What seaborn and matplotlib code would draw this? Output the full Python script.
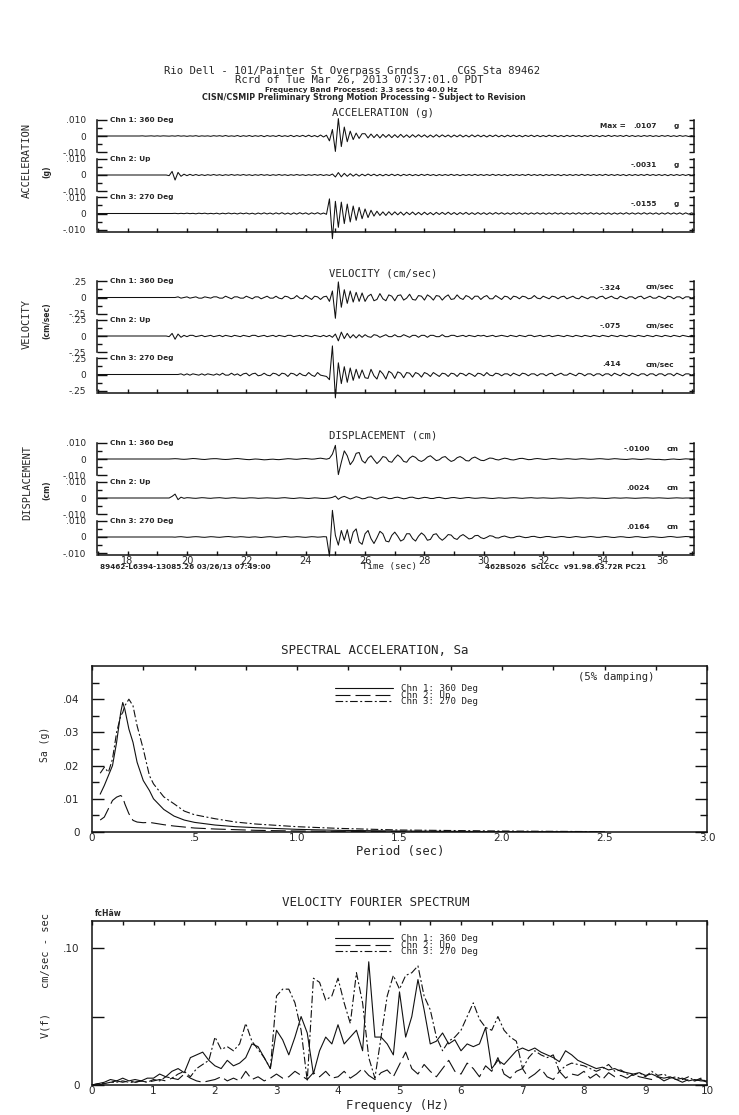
import numpy as np
import pandas as pd
import matplotlib
matplotlib.use("Agg")
import matplotlib.pyplot as plt
from matplotlib.lines import Line2D
import seaborn as sns

# ---------------------------------------------------------------
# Data
# ---------------------------------------------------------------
# time histories: first sample (sec) and sample step (sec)
T_START = 17.0
T_STEP = 0.1

CHANNELS = ['Chn 1: 360 Deg', 'Chn 2: Up', 'Chn 3: 270 Deg']

# acceleration, units of 0.0001 g
ACC_CH1 = [
    0, 0, 0, 0, 0, 0, 0, 0, 0, 0,
    0, 0, 0, 0, 0, 1, -1, 0, 1, -1,
    1, -1, 1, 0, -1, 1, -1, 2, -1, 1,
    -2, 1, -1, 2, -2, 1, -1, 1, -2, 2,
    -1, 2, -2, 3, -2, 1, -2, 3, -3, 2,
    -2, 3, -3, 2, -2, 3, -4, 3, -2, 2,
    -3, 4, -3, 2, -3, 4, -4, 3, -3, 4,
    -4, 5, -4, 3, -5, 6, -6, 5, -30, 40,
    -95, 107, -65, 55, -35, 30, -22, 18, -15, 14,
    14, -12, 12, -10, 10, -12, 10, -8, 9, -10,
    8, -9, 10, -8, 7, -9, 8, -7, 8, -6,
    7, -8, 6, -7, 8, -6, 7, -5, 6, -7,
    6, -5, 7, -6, 5, -6, 7, -5, 6, -5,
    5, -6, 5, -4, 6, -5, 4, -5, 5, -4,
    5, -4, 4, -5, 4, -3, 5, -4, 4, -4,
    3, -4, 5, -3, 4, -4, 3, -4, 4, -3,
    4, -3, 3, -4, 3, -3, 4, -3, 3, -4,
    3, -3, 4, -3, 3, -2, 3, -3, 4, -3,
    3, -3, 2, -3, 3, -2, 3, -3, 2, -3,
    3, -2, 3, -3, 2, -3, 3, -2, 2, -3,
    2, -2]
ACC_CH2 = [
    0, 0, 0, 0, 0, 0, 0, 0, 0, 0,
    0, 0, 0, 0, 0, 0, 0, 0, 0, 0,
    0, 0, 0, 0, -4, 22, -31, 16, -8, 5,
    -4, 4, -3, 3, -3, 2, -3, 2, -2, 3,
    -2, 2, -3, 2, -2, 3, -2, 2, -2, 3,
    -2, 2, -3, 2, -2, 3, -2, 2, -3, 2,
    -2, 3, -2, 2, -3, 2, -2, 3, -2, 2,
    -3, 2, -2, 3, -2, 3, -3, 2, -3, 6,
    -12, 15, -11, 10, -8, 8, -7, 6, -7, 5,
    -5, 6, -4, 5, -5, 4, -5, 4, -4, 5,
    -4, 4, -5, 4, -3, 4, -4, 3, -4, 4,
    -3, 4, -3, 3, -4, 3, -3, 3, -3, 4,
    -3, 3, -4, 3, -3, 3, -3, 4, -3, 3,
    -3, 3, -3, 4, -3, 3, -3, 3, -4, 3,
    -3, 3, -3, 3, -3, 4, -3, 3, -3, 3,
    -4, 3, -3, 3, -3, 3, -4, 3, -3, 3,
    -3, 3, -3, 4, -3, 3, -3, 3, -3, 3,
    -3, 4, -3, 3, -3, 3, -3, 3, -4, 3,
    -3, 3, -3, 3, -3, 4, -3, 3, -3, 3,
    -3, 3, -4, 3, -3, 3, -3, 3, -3, 3,
    -3, 3]
ACC_CH3 = [
    0, 0, 0, 0, 0, 0, 0, 0, 0, 0,
    0, 0, 0, 0, 0, 0, 0, 0, 0, 0,
    0, 0, 0, 0, 0, 0, 1, -1, 1, -1,
    2, -1, 1, -2, 2, -1, 2, -2, 1, -2,
    2, -3, 2, -2, 3, -2, 2, -3, 3, -2,
    3, -3, 2, -4, 3, -3, 4, -3, 3, -4,
    4, -3, 5, -4, 3, -5, 4, -4, 5, -3,
    4, -5, 4, -3, 5, -4, 3, -5, 90, -155,
    75, -85, 70, -62, 58, -52, 46, -42, 38, -32,
    28, -25, 20, -16, 14, -12, 10, -12, 11, -9,
    10, -8, 9, -10, 8, -7, 9, -8, 7, -8,
    8, -7, 6, -8, 7, -6, 7, -6, 8, -6,
    6, -7, 6, -5, 7, -6, 5, -6, 6, -5,
    5, -6, 5, -5, 6, -4, 5, -5, 4, -5,
    5, -4, 5, -5, 4, -5, 4, -4, 5, -4,
    4, -5, 4, -4, 5, -4, 4, -5, 4, -4,
    4, -4, 5, -4, 4, -4, 5, -4, 4, -5,
    4, -4, 4, -5, 4, -4, 4, -4, 5, -4,
    4, -4, 4, -4, 5, -4, 4, -4, 4, -5,
    4, -4, 5, -4, 4, -4, 4, -5, 4, -4,
    4, -4]

# velocity, units of 0.01 cm/sec
VEL_CH1 = [
    0, 0, 0, 0, 0, 0, 0, 0, 0, 0,
    0, 0, 0, 0, 0, 0, 0, 0, 0, 0,
    0, 0, 0, 0, 0, 0, 0, 1, -1, 0,
    1, -1, 0, 1, -1, -1, 1, 0, -1, 1,
    1, -1, -1, 2, 0, -2, 1, 1, -1, -1,
    2, 0, -2, 1, 1, -2, 0, 2, -1, -1,
    2, -1, -2, 2, 1, -2, -1, 3, -1, -2,
    3, 0, -3, 2, 1, -3, 1, 2, -6, 10,
    -32, 24, -15, 12, -9, 10, -7, 8, -6, 7,
    -6, 2, 5, -5, -3, 6, -2, -5, 4, 2,
    -5, 3, 4, -4, -1, 5, -3, -4, 3, 2,
    -4, 4, 1, -4, 3, 2, -4, 1, 4, -3,
    -2, 4, -1, -3, 3, 1, -3, 2, 2, -3,
    1, 3, -2, -2, 3, 0, -3, 2, 1, -3,
    2, 1, -2, 2, 1, -2, -1, 3, -1, -2,
    2, 0, -2, 2, 1, -2, 1, 2, -2, 0,
    2, -1, -2, 2, 0, -2, 1, 1, -2, 1,
    2, -2, 0, 2, -1, -2, 2, 0, -2, 1,
    1, -2, 1, 2, -2, 0, 2, -1, -1, 2,
    0, -2, 2, 1, -2, 1, 1, -2, 1, 1,
    -1, 1]
VEL_CH2 = [
    0, 0, 0, 0, 0, 0, 0, 0, 0, 0,
    0, 0, 0, 0, 0, 0, 0, 0, 0, 0,
    0, 0, 0, 0, -1, 4, -5, 3, -2, 1,
    -1, 1, 1, -1, 0, 1, -1, 0, 1, -1,
    0, 1, -1, 1, 0, -1, 1, 0, -1, 1,
    0, -1, 1, 1, -1, 0, 1, -1, 0, 1,
    -1, 1, 0, -1, 1, 1, -1, 0, 1, -1,
    1, 0, -1, 1, 0, -1, 1, -1, 1, -2,
    3, -7.5, 6, -4, 4, -3, 2, -3, 2, -2,
    2, -1, -2, 2, 1, -2, 0, 2, -1, -1,
    2, -1, -1, 2, 0, -2, 1, 1, -2, 1,
    1, -2, 1, 1, -1, -1, 2, -1, -1, 1,
    1, -1, 0, 1, -1, 1, 0, -1, 1, 0,
    1, -1, 0, 1, -1, 0, 1, 0, -1, 1,
    0, -1, 1, 0, -1, 1, 1, -1, 0, 1,
    -1, 0, 1, -1, 0, 1, 0, -1, 1, 0,
    -1, 1, 0, -1, 1, 0, -1, 1, 0, -1,
    1, 0, -1, 1, 0, -1, 1, 0, -1, 1,
    0, -1, 1, 0, -1, 1, 0, -1, 1, 0,
    -1, 1, 0, -1, 1, 0, -1, 1, 0, -1,
    1, 0]
VEL_CH3 = [
    0, 0, 0, 0, 0, 0, 0, 0, 0, 0,
    0, 0, 0, 0, 0, 0, 0, 0, 0, 0,
    0, 0, 0, 0, 0, 0, 0, 0, 1, -1,
    1, -1, 1, 0, -1, 1, -1, 1, 0, -1,
    1, -1, 2, -1, -1, 2, -1, 1, -2, 1,
    2, -2, 1, 2, -2, -1, 2, -1, -2, 2,
    1, -2, 2, 1, -3, 2, 1, -2, 2, -1,
    -2, 3, -1, -3, 3, -1, -2, -3, -8, 44,
    -36, 18, -14, 12, -12, 10, -9, 8, -6, 7,
    -5, -6, 8, -2, -7, 6, 1, -7, 5, 2,
    -6, 4, 2, -5, 3, 2, -4, 3, 1, -4,
    3, 1, -3, 3, 0, -3, 2, 1, -3, 2,
    1, -3, 2, 1, -2, 2, 0, -3, 2, 1,
    -2, 3, -1, -2, 2, 1, -2, 1, 1, -2,
    2, 0, -2, 2, 1, -2, 1, 1, -2, 1,
    1, -2, 1, 2, -2, 0, 2, -1, -1, 2,
    0, -2, 2, 1, -2, 1, 1, -2, 1, 1,
    -2, 1, 1, -2, 2, 0, -2, 2, 0, -2,
    2, 0, -2, 1, 1, -2, 1, 1, -2, 1,
    1, -2, 1, 1, -2, 2, 0, -2, 1, 1,
    -1, 1]

# displacement, units of 0.0001 cm
DISP_CH1 = [
    0, 0, 0, 0, 0, 0, 0, 0, 0, 0,
    0, 0, 0, 0, 0, 0, 0, 0, 0, 0,
    0, 0, 0, 0, 0, 1, 2, 1, -1, -2,
    -1, 1, 3, 2, 0, -2, -3, -1, 1, 2,
    2, 0, -2, -3, -2, 0, 2, 3, 1, -1,
    -3, -4, -2, 0, -1, -3, -5, -4, -2, -1,
    -3, -4, -2, 0, 2, 1, -1, -2, 0, 2,
    3, 1, -1, 0, 3, 5, 2, -1, 4, 30,
    84, -96, -20, 50, 20, -35, -10, 35, 40, -10,
    -25, 5, 20, -5, -28, -10, 15, 10, -15, -20,
    5, 25, 10, -15, -20, 5, 18, 10, -8, -15,
    -5, 12, 20, 5, -10, -5, 10, 15, -2, -15,
    -8, 8, 15, 5, -10, -12, 5, 12, 2, -8,
    -10, -2, 6, 4, -3, -6, 0, 5, 2, -4,
    -6, -2, 3, 4, 0, -4, -3, 1, 3, 1,
    -2, -3, 0, 3, 2, -1, -2, 0, 2, 1,
    -1, -2, 0, 2, 1, -1, -2, -1, 1, 2,
    1, -1, -2, 0, 2, 1, -1, -2, -3, -1,
    1, 0, -2, -3, -1, 1, 0, -2, -3, -2,
    -4, -5, -3, -1, 0, -2, -3, -1, 1, 0,
    -1, 0]
DISP_CH2 = [
    0, 0, 0, 0, 0, 0, 0, 0, 0, 0,
    0, 0, 0, 0, 0, 0, 0, 0, 0, 0,
    0, 0, 0, 0, 0, 10, 24, -10, 5, -2,
    2, 1, -1, -2, 0, 2, 1, -1, -2, 0,
    1, 2, 0, -2, -1, 1, 2, 0, -1, -2,
    -1, 1, 1, 0, -2, -1, 0, 1, 0, -1,
    -2, -1, 1, 2, 0, -2, -3, -1, 1, 0,
    -2, -3, -1, 1, 0, -2, -3, -2, 0, 4,
    12, -8, 4, 10, 2, -6, 0, 8, 3, -5,
    -3, 5, 6, -2, -6, 1, 6, 3, -4, -3,
    3, 5, 0, -5, -2, 4, 5, -1, -4, 0,
    4, 2, -3, -3, 2, 4, 0, -4, -2, 2,
    3, 0, -3, -1, 2, 3, 0, -2, -1, 1,
    2, 0, -2, -3, -1, 1, 0, -2, -1, 1,
    2, 1, -1, -2, 0, 1, 2, 0, -1, 0,
    1, 0, -1, -2, -1, 0, 1, 0, -1, -2,
    -1, 0, 1, 1, 0, -1, 0, 1, 0, -1,
    -2, -3, -2, 0, 1, 0, -1, 0, 1, 0,
    -1, -2, -1, 0, 1, 1, 0, -1, 0, 1,
    0, -1, -2, -1, 0, 1, 0, -1, 0, 0,
    0, 0]
DISP_CH3 = [
    0, 0, 0, 0, 0, 0, 0, 0, 0, 0,
    0, 0, 0, 0, 0, 0, 0, 0, 0, 0,
    0, 0, 0, 0, 0, 0, -1, 1, 2, 0,
    -2, -1, 1, 2, 1, -1, -2, 0, 2, 1,
    -1, -2, 0, 2, 3, 1, -1, 0, 2, 1,
    -1, -2, 0, 1, -1, -3, -1, 1, 2, 0,
    -2, -1, 1, 3, 1, -1, 0, 2, 1, -1,
    -2, 0, 2, 1, -1, 0, 2, 1, -118, 164,
    10, -50, 40, -20, 45, -40, 30, 50, -30, -45,
    20, 40, -10, -40, -5, 35, 20, -25, -30, 10,
    30, 5, -25, -15, 20, 20, -10, -25, 5, 25,
    10, -20, -15, 15, 20, -5, -20, -5, 15, 12,
    -8, -15, 5, 15, 2, -12, -8, 8, 10, -4,
    -10, -2, 8, 5, -5, -6, 2, 6, 0, -5,
    -4, 3, 5, 0, -4, -2, 3, 4, -1, -4,
    -1, 3, 3, -1, -3, 0, 3, 2, -2, -3,
    0, 3, 1, -2, -2, 1, 3, 1, -2, -2,
    1, 3, 1, -2, -3, 0, 2, 1, -2, -3,
    -1, 2, 2, -1, -3, -2, 1, 2, 0, -2,
    -3, -1, 2, 3, 1, -2, -1, 1, 3, 2,
    0, 1]

ACC_PEAK = ['.0107', '-.0031', '-.0155']
VEL_PEAK = ['-.324', '-.075', '.414']
DISP_PEAK = ['-.0100', '.0024', '.0164']

# response spectrum, 5% damping
PERIOD = [0.04, 0.06, 0.08, 0.10, 0.12, 0.14, 0.15, 0.16, 0.18, 0.20, 0.22, 0.25, 0.28,
          0.30, 0.35, 0.40, 0.45, 0.50, 0.60, 0.70, 0.80, 1.0, 1.2, 1.5, 2.0, 2.5]
SA_CH1 = [.0114, .014, .017, .020, .027, .036, .039, .037, .031, .027, .021, .0155, .0125,
          .010, .0068, .0048, .0036, .0029, .0021, .0016, .0013, .0008, .0005, .0003, .0001, 0]
SA_CH2 = [.0036, .0045, .007, .0095, .0105, .011, .0105, .0085, .0055, .0035, .003, .0028, .0029,
          .0027, .0022, .0018, .0015, .0012, .0009, .0007, .0005, .0003, .0002, .0001, 0, 0]
SA_CH3 = [.0177, .0195, .018, .022, .030, .035, .036, .038, .040, .038, .032, .025, .017,
          .0145, .0106, .0085, .0063, .0052, .0040, .0030, .0024, .0016, .0011, .0006, .0003, .0001]

# velocity Fourier spectrum, 0 - 10 Hz, units of 0.001 cm/sec-sec
F_STEP = 0.1
FOURIER_CH1 = [
    0, 1, 2, 4, 3, 5, 3, 4, 3, 5,
    5, 8, 6, 10, 12, 9, 20, 22, 24, 18,
    14, 12, 18, 14, 16, 20, 30, 28, 20, 12,
    40, 33, 22, 35, 50, 38, 8, 25, 35, 30,
    44, 30, 35, 40, 25, 90, 35, 35, 30, 22,
    68, 35, 50, 77, 55, 30, 32, 38, 30, 33,
    25, 30, 28, 30, 42, 12, 18, 15, 20, 25,
    27, 25, 27, 24, 22, 20, 17, 25, 22, 18,
    16, 14, 12, 13, 11, 12, 10, 9, 8, 9,
    7, 8, 6, 5, 6, 4, 5, 3, 4, 3, 3]
FOURIER_CH2 = [
    0, 0, 1, 2, 3, 2, 3, 2, 3, 2,
    3, 4, 3, 5, 4, 8, 5, 3, 2, 3,
    4, 6, 3, 5, 3, 10, 4, 6, 3, 5,
    8, 5, 6, 10, 7, 4, 9, 6, 10, 5,
    6, 10, 5, 8, 12, 7, 4, 9, 11, 6,
    15, 24, 12, 8, 15, 10, 6, 12, 18, 10,
    8, 16, 12, 6, 14, 10, 20, 8, 5, 10,
    12, 5, 8, 12, 6, 4, 10, 5, 8, 7,
    10, 5, 8, 4, 9, 6, 7, 5, 8, 6,
    5, 4, 6, 3, 5, 4, 2, 4, 3, 4, 2]
FOURIER_CH3 = [
    0, 1, 1, 2, 2, 3, 2, 2, 3, 2,
    4, 3, 6, 5, 8, 10, 6, 12, 15, 18,
    35, 26, 28, 25, 30, 45, 32, 26, 20, 12,
    65, 70, 70, 60, 40, 3, 78, 75, 62, 65,
    78, 60, 45, 82, 60, 20, 5, 35, 65, 80,
    70, 80, 82, 87, 65, 55, 35, 25, 32, 35,
    40, 50, 60, 48, 42, 40, 50, 40, 35, 32,
    12, 20, 25, 22, 20, 22, 10, 14, 16, 15,
    14, 12, 10, 12, 15, 10, 11, 8, 7, 9,
    6, 10, 7, 8, 5, 6, 4, 6, 3, 5, 2]

# ---------------------------------------------------------------
# Figure
# ---------------------------------------------------------------
sns.set_style("ticks")
plt.rcParams['font.family'] = ['DejaVu Sans']
plt.rcParams['lines.scale_dashes'] = False
MONO = 'DejaVu Sans Mono'
INK = '#111111'

W, H = 739, 1115
fig = plt.figure(figsize=(W / 100, H / 100), dpi=100)


def add_px(left, top, right, bottom):
    return fig.add_axes([left / W, 1 - bottom / H, (right - left) / W, (bottom - top) / H])


def ftext(px, py, s, **kw):
    fig.text(px / W, 1 - py / H, s, **kw)


def trace(values, scale):
    t = T_START + T_STEP * np.arange(len(values))
    return pd.DataFrame({'t': t, 'v': np.asarray(values, dtype=float) * scale})


# header
ftext(352, 71, 'Rio Dell - 101/Painter St Overpass Grnds      CGS Sta 89462',
      family=MONO, size=7.6, ha='center', va='center')
ftext(359, 80, 'Rcrd of Tue Mar 26, 2013 07:37:01.0 PDT',
      family=MONO, size=7.6, ha='center', va='center')
ftext(361, 90, 'Frequency Band Processed: 3.3 secs to 40.0 Hz',
      size=5.2, weight='bold', ha='center', va='center')
ftext(364, 98, 'CISN/CSMIP Preliminary Strong Motion Processing - Subject to Revision',
      size=5.8, weight='bold', ha='center', va='center')

GROUPS = [
    dict(title='ACCELERATION (g)', ty=113, name='ACCELERATION', ny=160, unit_lab='(g)', uy=172,
         data=[ACC_CH1, ACC_CH2, ACC_CH3], scale=1e-4, m=0.01, lab=['-.010', '0', '.010'],
         peaks=ACC_PEAK, unit='g', vx=657, ux=676, centers=[136, 175, 213.5]),
    dict(title='VELOCITY (cm/sec)', ty=273, name='VELOCITY', ny=324, unit_lab='(cm/sec)', uy=321,
         data=[VEL_CH1, VEL_CH2, VEL_CH3], scale=1e-2, m=0.25, lab=['-.25', '0', '.25'],
         peaks=VEL_PEAK, unit='cm/sec', vx=621, ux=660, centers=[297.5, 336, 374.5]),
    dict(title='DISPLACEMENT (cm)', ty=435, name='DISPLACEMENT', ny=482, unit_lab='(cm)', uy=490,
         data=[DISP_CH1, DISP_CH2, DISP_CH3], scale=1e-4, m=0.01, lab=['-.010', '0', '.010'],
         peaks=DISP_PEAK, unit='cm', vx=650, ux=673, centers=[459, 498, 537]),
]

for gi, g in enumerate(GROUPS):
    ftext(383, g['ty'], g['title'], family=MONO, size=7.6, ha='center', va='center')
    ftext(27, g['ny'], g['name'], family=MONO, size=7.5, rotation=90, ha='center', va='center')
    ftext(47, g['uy'], g['unit_lab'], size=5.5, weight='bold', rotation=90, ha='center', va='center')
    m = g['m']
    for k in range(3):
        c = g['centers'][k]
        ax = add_px(97, c - 18, 694, c + 18)
        sns.lineplot(data=trace(g['data'][k], g['scale']), x='t', y='v', ax=ax, color=INK,
                     lw=0.75, estimator=None, sort=False, clip_on=False)
        ax.set_xlim(16.97, 37.08)
        ax.set_ylim(-1.108 * m, 1.108 * m)
        ax.set(xlabel='', ylabel='')
        ax.spines['top'].set_visible(False)
        for s in ['left', 'right', 'bottom']:
            ax.spines[s].set_linewidth(1.1)
            ax.spines[s].set_color(INK)
        ax.spines['right'].set_visible(True)
        ax.spines['left'].set_bounds(-m, m)
        ax.spines['right'].set_bounds(-m, m)
        ax.set_yticks([-m, 0, m], g['lab'])
        ax.set_yticks([-m / 2, m / 2], minor=True)
        ax.tick_params(axis='y', which='both', direction='in', left=True, right=True,
                       labelsize=6.5, pad=8, width=1.0, color=INK)
        ax.tick_params(axis='y', which='major', length=7)
        ax.tick_params(axis='y', which='minor', length=3.6)
        for tk in ax.yaxis.get_major_ticks():
            tk.tick2line.set_markersize(3.6)
        if k < 2:
            ax.spines['bottom'].set_visible(False)
            ax.set_xticks([])
        else:
            ax.set_xticks(range(17, 38), minor=True)
            if gi == 2:
                ax.set_xticks(range(18, 37, 2))
                ax.tick_params(axis='x', which='both', direction='in', length=3, width=1.0,
                               labelsize=7, pad=0.5, color=INK)
            else:
                ax.set_xticks([])
                ax.tick_params(axis='x', which='minor', direction='in', length=3, width=1.0,
                               color=INK)
        ax.patch.set_alpha(0)
        ftext(110, c - 16.25, CHANNELS[k], size=5.3, weight='bold', va='center')
        ftext(g['vx'], c - 10, g['peaks'][k], size=5.3, weight='bold', ha='right', va='center')
        ftext(g['ux'], c - 10, g['unit'], size=5.3, weight='bold', ha='center', va='center')
        if gi == 0 and k == 0:
            ftext(600, c - 10, 'Max =', size=5.3, weight='bold', va='center')

ftext(100, 567, '89462-L6394-13085.26 03/26/13 07:49:00', size=5.2, weight='bold', va='center')
ftext(390, 567, 'Time (sec)', family=MONO, size=6.6, ha='center', va='center')
ftext(485, 567, '462BS026  ScLcCc  v91.98.63.72R PC21', size=5.2, weight='bold', va='center')

STYLES = [None, (10.8, 3.6), (5.5, 1.8, 1.4, 1.8)]


def style_frame(ax):
    for s in ax.spines.values():
        s.set_linewidth(1.1)
        s.set_color(INK)
        s.set_visible(True)


def add_legend(ax, y_anchor):
    handles = []
    for st in STYLES:
        h = Line2D([], [], color=INK, lw=0.8)
        if st is not None:
            h.set_dashes(st)
        handles.append(h)
    ax.legend(handles, CHANNELS, loc='upper left', bbox_to_anchor=((335 - 92) / 615, y_anchor),
              frameon=False, prop=dict(family=MONO, size=6.6), handlelength=6.3,
              handletextpad=0.95, labelspacing=-0.25, borderpad=0, borderaxespad=0)


# spectral acceleration
ax = add_px(92, 666, 707, 832)
sa = pd.DataFrame({'T': PERIOD, 'c1': SA_CH1, 'c2': SA_CH2, 'c3': SA_CH3})
for col, st in zip(['c1', 'c2', 'c3'], STYLES):
    sns.lineplot(data=sa, x='T', y=col, ax=ax, color=INK, lw=0.8, estimator=None, sort=False)
    if st is not None:
        ax.lines[-1].set_dashes(st)
ax.set_xlim(0, 3.0)
ax.set_ylim(0, 0.05)
ax.set(xlabel='', ylabel='')
style_frame(ax)
ax.set_xticks([0, 0.5, 1.0, 1.5, 2.0, 2.5, 3.0], ['0', '.5', '1.0', '1.5', '2.0', '2.5', '3.0'])
ax.set_xticks(np.arange(0.25, 3.0, 0.5), minor=True)
ax.tick_params(axis='x', which='both', bottom=False, top=True, direction='in', length=3,
               width=1.0, labelsize=7.5, pad=1, color=INK)
ax.set_yticks([0, 0.01, 0.02, 0.03, 0.04], ['0', '.01', '.02', '.03', '.04'])
ax.set_yticks(np.arange(0.005, 0.05, 0.01), minor=True)
ax.tick_params(axis='y', which='both', left=True, right=True, direction='in', width=1.0,
               labelsize=7.5, pad=9, color=INK)
ax.tick_params(axis='y', which='major', length=8.5)
ax.tick_params(axis='y', which='minor', length=5)
add_legend(ax, 1 - (684 - 666) / 166)
ftext(375, 651, 'SPECTRAL ACCELERATION, Sa', family=MONO, size=9, ha='center', va='center')
ftext(578, 677, '(5% damping)', family=MONO, size=7.7, va='center')
ftext(400, 852, 'Period (sec)', family=MONO, size=8.8, ha='center', va='center')
ftext(45, 744, 'Sa (g)', family=MONO, size=7, rotation=90, ha='center', va='center')

# velocity Fourier spectrum
ax = add_px(92, 920.7, 707, 1085)
freq = F_STEP * np.arange(len(FOURIER_CH1))
fs = pd.DataFrame({'f': freq, 'c1': np.array(FOURIER_CH1) * 1e-3,
                   'c2': np.array(FOURIER_CH2) * 1e-3, 'c3': np.array(FOURIER_CH3) * 1e-3})
for col, st in zip(['c1', 'c2', 'c3'], STYLES):
    sns.lineplot(data=fs, x='f', y=col, ax=ax, color=INK, lw=0.8, estimator=None, sort=False)
    if st is not None:
        ax.lines[-1].set_dashes(st)
ax.set_xlim(0, 10)
ax.set_ylim(0, 0.12)
ax.set(xlabel='', ylabel='')
style_frame(ax)
ax.set_xticks(range(0, 11), [str(i) for i in range(0, 11)])
ax.set_xticks(np.arange(0.5, 10, 1.0), minor=True)
ax.tick_params(axis='x', which='both', bottom=False, top=True, direction='in', length=3,
               width=1.0, labelsize=7.5, pad=1, color=INK)
ax.set_yticks([0, 0.05, 0.10], ['0', '', '.10'])
ax.tick_params(axis='y', which='major', left=True, right=True, direction='in', length=8.5,
               width=1.0, labelsize=7.5, pad=9, color=INK)
add_legend(ax, 1 - (934 - 920.7) / 164.3)
ftext(376, 903, 'VELOCITY FOURIER SPECTRUM', family=MONO, size=9, ha='center', va='center')
ftext(398, 1105, 'Frequency (Hz)', family=MONO, size=8.8, ha='center', va='center')
ftext(45, 975, 'V(f)    cm/sec - sec', family=MONO, size=7.5, rotation=90, ha='center', va='center')
ftext(95, 914, 'fcHäw', size=5.5, weight='bold', va='center')

fig.savefig('out.png', dpi=100)
